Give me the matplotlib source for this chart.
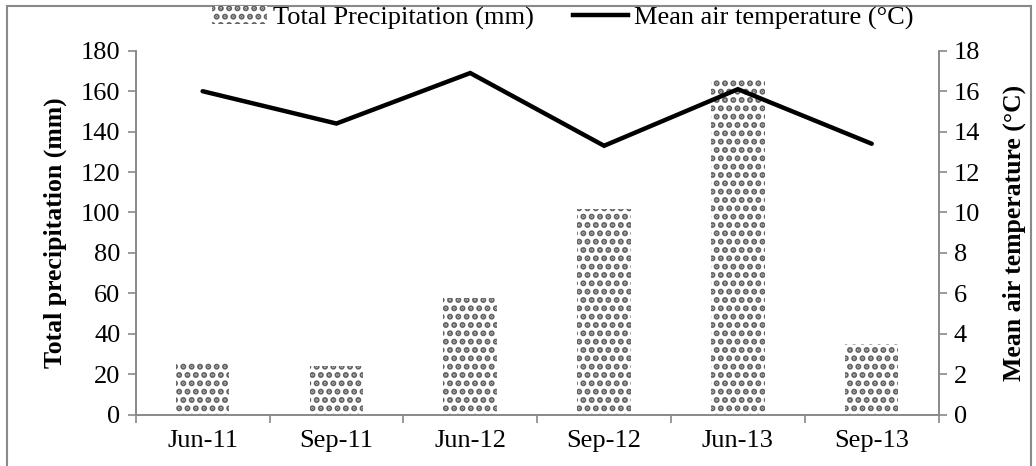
import numpy as np
import matplotlib.pyplot as plt
from matplotlib.patches import Rectangle
from matplotlib.lines import Line2D

plt.rcParams['font.family'] = ['Liberation Serif', 'DejaVu Serif']
plt.rcParams['hatch.linewidth'] = 3.0

periods = ['Jun-11', 'Sep-11', 'Jun-12', 'Sep-12', 'Jun-13', 'Sep-13']
precip = [26, 24, 57.5, 101.5, 165.5, 35]
temp = [16.0, 14.4, 16.9, 13.3, 16.1, 13.4]

axis_grey = '#898989'

fig = plt.figure(figsize=(10.36, 4.66), dpi=100)
ax = fig.add_axes([0.131, 0.1105, 0.775, 0.7805])
ax2 = ax.twinx()

x = np.arange(len(periods))
bars = ax.bar(x, precip, width=0.4, color='white', edgecolor='#606060',
              linewidth=0, hatch='..')
ax2.plot(x, temp, color='black', lw=3.2, solid_capstyle='round',
         solid_joinstyle='miter')

ax.set_xlim(-0.5, len(periods) - 0.5)
ax.set_ylim(0, 180)
ax.set_yticks(range(0, 181, 20))
ax2.set_ylim(0, 18)
ax2.set_yticks(range(0, 19, 2))

ax.set_xticks(x)
ax.set_xticklabels(periods)
ax.set_xticks(np.arange(-0.5, len(periods)), minor=True)
ax.tick_params(axis='x', which='major', length=0, labelsize=19, pad=11)
ax.tick_params(axis='x', which='minor', length=6, color=axis_grey, width=1.2)
ax.tick_params(axis='y', length=6, color=axis_grey, width=1.2, labelsize=19, pad=5)
ax2.tick_params(axis='y', length=6, color=axis_grey, width=1.2, labelsize=19, pad=5)

for a in (ax, ax2):
    a.spines['top'].set_visible(False)
    for s in ('left', 'right', 'bottom'):
        a.spines[s].set_color(axis_grey)
        a.spines[s].set_linewidth(1.2)

ax.set_ylabel('Total precipitation (mm)', fontsize=18.5, fontweight='bold', labelpad=10)
ax2.set_ylabel('Mean air temperature (°C)', fontsize=18.5, fontweight='bold', labelpad=16)

bar_handle = Rectangle((0, 0), 1, 1, facecolor='white', edgecolor='#606060',
                       linewidth=0, hatch='..')
line_handle = Line2D([], [], color='black', lw=3.2)
fig.legend([bar_handle, line_handle],
           ['Total Precipitation (mm)', 'Mean air temperature (°C)'],
           loc='center', bbox_to_anchor=(0.543, 0.962), ncol=2, frameon=False,
           fontsize=19, handlelength=2.1, handletextpad=0.2, columnspacing=1.5,
           borderpad=0.1)

fig.patches.append(Rectangle((0.0068, -0.02), 0.988, 1.007, transform=fig.transFigure,
                             fill=False, edgecolor=axis_grey, linewidth=1.5))

fig.savefig('out.png', dpi=100)
